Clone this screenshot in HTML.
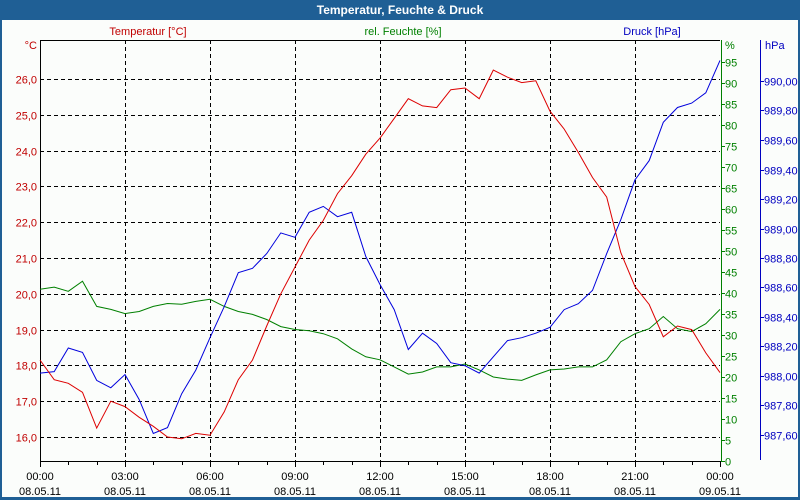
<!DOCTYPE html>
<html><head><meta charset="utf-8"><style>
body{margin:0;background:#fff;}
svg{display:block;font-family:"Liberation Sans",sans-serif;font-size:11px;}
</style></head><body>
<svg id="c" width="800" height="500" xmlns="http://www.w3.org/2000/svg">
<rect x="0" y="0" width="800" height="500" fill="#1f5f95"/>
<rect x="2" y="20" width="796" height="477" fill="#fbfdfb"/>
<text x="400" y="14" text-anchor="middle" fill="#fff" font-weight="bold" font-size="12">Temperatur, Feuchte &amp; Druck</text>
<text x="148" y="35" text-anchor="middle" fill="#c00000">Temperatur [°C]</text>
<text x="403" y="35" text-anchor="middle" fill="#008000">rel. Feuchte [%]</text>
<text x="652" y="35" text-anchor="middle" fill="#0000c0">Druck [hPa]</text>
<text x="37" y="49" text-anchor="end" fill="#c00000">°C</text>
<text x="725" y="49" fill="#008000">%</text>
<text x="765" y="49" fill="#0000c0">hPa</text>
<g id="grid"></g>
<g id="axes"></g>
<g id="series"></g>
</svg>
<script>
const hours=[0,0.5,1,1.5,2,2.5,3,3.5,4,4.5,5,5.5,6,6.5,7,7.5,8,8.5,9,9.5,10,10.5,11,11.5,12,12.5,13,13.5,14,14.5,15,15.5,16,16.5,17,17.5,18,18.5,19,19.5,20,20.5,21,21.5,22,22.5,23,23.5,24];
const temperature=[18.15,17.6,17.5,17.25,16.25,17.0,16.85,16.55,16.3,16.0,15.95,16.1,16.05,16.7,17.6,18.15,19.1,20.0,20.75,21.5,22.05,22.8,23.3,23.9,24.35,24.9,25.45,25.25,25.2,25.7,25.75,25.45,26.25,26.05,25.9,25.95,25.1,24.6,23.95,23.25,22.7,21.15,20.2,19.7,18.8,19.1,19.0,18.35,17.8];
const humidity=[40.9,41.4,40.4,42.8,36.8,36.1,35.1,35.6,36.8,37.5,37.3,38.0,38.5,36.8,35.6,34.9,33.7,32.0,31.3,31.0,30.3,29.1,26.7,24.8,24.1,22.4,20.7,21.2,22.4,22.4,23.1,21.7,20.0,19.5,19.2,20.5,21.7,21.9,22.4,22.4,24.1,28.4,30.3,31.5,34.4,31.5,30.8,32.7,36.1];
const pressure=[988.02,988.03,988.19,988.16,987.97,987.92,988.01,987.84,987.61,987.65,987.88,988.04,988.26,988.47,988.70,988.73,988.83,988.97,988.94,989.11,989.15,989.08,989.11,988.81,988.62,988.45,988.18,988.29,988.22,988.09,988.07,988.02,988.13,988.24,988.26,988.29,988.33,988.45,988.49,988.58,988.83,989.06,989.33,989.46,989.72,989.82,989.85,989.92,990.14];
const tempTicks=["16,0","17,0","18,0","19,0","20,0","21,0","22,0","23,0","24,0","25,0","26,0"];
const humTicks=[0,5,10,15,20,25,30,35,40,45,50,55,60,65,70,75,80,85,90,95];
const presTicks=["987,60","987,80","988,00","988,20","988,40","988,60","988,80","989,00","989,20","989,40","989,60","989,80","990,00"];
const timeLabels=["00:00","03:00","06:00","09:00","12:00","15:00","18:00","21:00","00:00"];
const dateLabels=["08.05.11","08.05.11","08.05.11","08.05.11","08.05.11","08.05.11","08.05.11","08.05.11","09.05.11"];

const X0=40,X1=720,Y0=40,Y1=461;
const xS=h=>X0+h*(X1-X0)/24;
const yT=t=>437-(t-16)*35.8;
const yH=v=>461-v*4.2;
const yP=p=>81+(990-p)*147.5;
const NS="http://www.w3.org/2000/svg";
function mk(tag,attrs,parent,txt){const e=document.createElementNS(NS,tag);for(const k in attrs)e.setAttribute(k,attrs[k]);if(txt!==undefined)e.textContent=txt;parent.appendChild(e);return e;}
const grid=document.getElementById('grid'),axes=document.getElementById('axes'),series=document.getElementById('series');

tempTicks.forEach((lab,i)=>{const y=Math.round(yT(16+i))+0.5;
 const l=mk('line',{x1:X0,x2:X1,y1:y,y2:y,stroke:'#000','stroke-dasharray':'4,3'},grid);
 
 
 const t=mk('text',{x:37,y:y+4,'text-anchor':'end',fill:'#c00000'},axes,lab);
 
 
});
for(let i=1;i<8;i++){const x=Math.round(xS(i*3))+0.5;
 const l=mk('line',{x1:x,x2:x,y1:Y0,y2:Y1,stroke:'#000','stroke-dasharray':'4,3'},grid);
 
 
}
mk('line',{x1:X0,x2:X1,y1:Y0+0.5,y2:Y0+0.5,stroke:'#000'},axes);
mk('line',{x1:X0+0.5,x2:X0+0.5,y1:Y0,y2:Y1,stroke:'#000'},axes);
mk('line',{x1:X0,x2:X1,y1:Y1+0.5,y2:Y1+0.5,stroke:'#000'},axes);
for(let h=0;h<=24;h++){const x=Math.round(xS(h))+0.5;
 const l=mk('line',{x1:x,x2:x,y1:Y1,y2:Y1+(h%3==0?6:4),stroke:'#000'},axes);
 
 
}
timeLabels.forEach((lab,i)=>{const x=xS(i*3);
 const t=mk('text',{x:x,y:480,'text-anchor':'middle',fill:'#000'},axes,lab);
 
 
 const d=mk('text',{x:x,y:495,'text-anchor':'middle',fill:'#000'},axes,dateLabels[i]);
 
 
});
mk('line',{x1:721.5,x2:721.5,y1:Y0,y2:Y1,stroke:'#008000'},axes);
humTicks.forEach(v=>{const y=Math.round(yH(v))+0.5;
 const l=mk('line',{x1:721,x2:725,y1:y,y2:y,stroke:'#008000'},axes);
 
 
 const t=mk('text',{x:725,y:y+4,fill:'#008000'},axes,String(v));
 
 
});
mk('line',{x1:760.5,x2:760.5,y1:Y0,y2:460,stroke:'#0000c0'},axes);
presTicks.forEach((lab,i)=>{const y=Math.round(yP(987.6+i*0.2))+0.5;
 const l=mk('line',{x1:760,x2:764,y1:y,y2:y,stroke:'#0000c0'},axes);
 
 
 const t=mk('text',{x:764,y:y+4,fill:'#0000c0'},axes,lab);
 
 
});
function line(vals,yf,color,name){
 const d=vals.map((v,i)=>(i?'L':'M')+xS(hours[i]).toFixed(1)+','+yf(v).toFixed(1)).join(' ');
 const p=mk('path',{d:d,fill:'none',stroke:color,'stroke-width':1},series);
 
 
}
line(humidity,yH,'#008000','humidity-line');
line(pressure,yP,'#0000dd','pressure-line');
line(temperature,yT,'#dd0000','temperature-line');
</script>
</body></html>
